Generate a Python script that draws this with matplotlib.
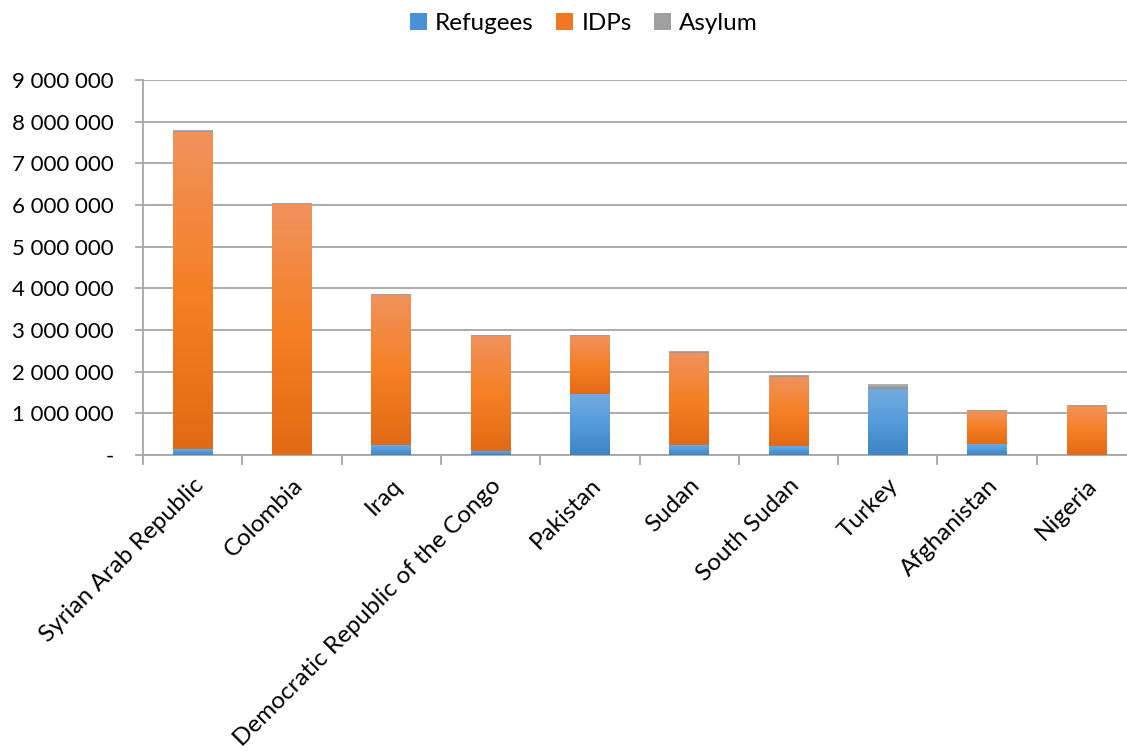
import numpy as np
import matplotlib.pyplot as plt
from matplotlib.colors import LinearSegmentedColormap
from matplotlib.patches import Patch
from matplotlib.ticker import FuncFormatter

plt.rcParams['font.family'] = ['Lato', 'DejaVu Sans']

countries = ['Syrian Arab Republic', 'Colombia', 'Iraq',
             'Democratic Republic of the Congo', 'Pakistan', 'Sudan',
             'South Sudan', 'Turkey', 'Afghanistan', 'Nigeria']
refugees = [150000, 0, 250000, 100000, 1470000, 240000, 220000, 1580000, 270000, 0]
idps = [7600000, 6020000, 3600000, 2760000, 1390000, 2200000, 1650000, 0, 800000, 1180000]
asylum = [30000, 20000, 15000, 20000, 10000, 30000, 30000, 100000, 10000, 5000]

series = [('Refugees', refugees, ['#3F85C6', '#549BDB', '#74ABDF'], '#4A90D4'),
          ('IDPs', idps, ['#E26A15', '#F58025', '#F0925C'], '#F07822'),
          ('Asylum', asylum, ['#8E8E8E', '#A3A3A3', '#B5B5B5'], '#A0A0A0')]

fig = plt.figure(figsize=(11.27, 7.51), dpi=100)
ax = fig.add_axes([0.127, 0.394, 0.881, 0.4995])

x = np.arange(len(countries))
width = 0.4
grad = np.linspace(0, 1, 100).reshape(-1, 1)
bottom = np.zeros(len(countries))
handles = []
for name, vals, stops, solid in series:
    cmap = LinearSegmentedColormap.from_list(name, stops)
    vals = np.array(vals, dtype=float)
    for i in x:
        if vals[i] <= 0:
            continue
        ax.imshow(grad, extent=[i - width / 2, i + width / 2, bottom[i], bottom[i] + vals[i]],
                  origin='lower', aspect='auto', cmap=cmap, zorder=3, interpolation='bilinear')
    bottom += vals
    handles.append(Patch(facecolor=solid, label=name))

ax.set_xlim(-0.5, len(countries) - 0.5)
ax.set_ylim(0, 9000000)
ax.set_yticks(np.arange(0, 9000001, 1000000))
ax.yaxis.set_major_formatter(FuncFormatter(
    lambda v, p: '-' if v == 0 else f'{int(v):,}'.replace(',', ' ')))
ax.grid(axis='y', color='#A6A6A6', linewidth=1.3, zorder=0)
ax.set_axisbelow(True)

ax.set_xticks(x)
ax.set_xticklabels(countries, rotation=45, ha='right', rotation_mode='anchor', fontsize=17.5)
ax.tick_params(axis='x', length=0, pad=14)
ax.set_xticks(np.arange(-0.5, len(countries), 1), minor=True)
ax.tick_params(axis='x', which='minor', length=7, color='#A6A6A6', width=1.3)
ax.tick_params(axis='y', labelsize=16, length=6, color='#A6A6A6', width=1.3, pad=15)

for s in ['top', 'right']:
    ax.spines[s].set_visible(False)
for s in ['left', 'bottom']:
    ax.spines[s].set_color('#A6A6A6')
    ax.spines[s].set_linewidth(1.3)

fig.legend(handles=handles, loc='upper center', bbox_to_anchor=(0.518, 1.012), ncol=3,
           frameon=False, fontsize=17.5, handlelength=0.7, handleheight=0.7,
           handletextpad=0.35, columnspacing=0.9)

fig.savefig('out.png', dpi=100)
